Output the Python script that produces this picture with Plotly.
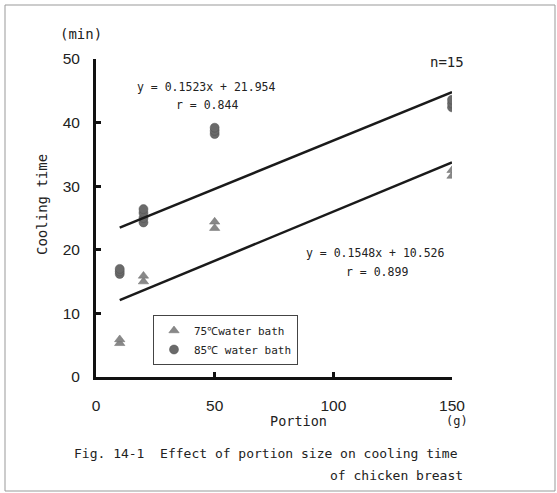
import plotly.graph_objects as go

# ---- data ----
x_75 = [10, 10, 20, 20, 50, 50, 150, 150]
y_75 = [5.3, 5.9, 15.0, 15.9, 23.4, 24.4, 31.6, 32.5]
x_85 = [10, 10, 10, 20, 20, 20, 20, 50, 50, 50, 150, 150, 150]
y_85 = [16.2, 16.6, 17.0, 24.3, 25.0, 25.8, 26.4, 38.2, 38.7, 39.2, 42.4, 43.0, 43.6]
fit_names = ["75", "85"]
fit_slope = [0.1548, 0.1523]
fit_intercept = [10.526, 21.954]
fit_r = [0.899, 0.844]
fit_x = [10, 150]
x_ticks = [0, 50, 100, 150]
y_ticks = [0, 10, 20, 30, 40, 50]

W, H = 557, 493
L, R, T, B = 96, 105, 59, 116
PW, PH = W - L - R, H - T - B
FONT = "DejaVu Sans Mono"
TICKFONT = "Liberation Sans"


def px(x):
    return (x - L) / PW


def py(y):
    return (H - B - y) / PH


fig = go.Figure()
fig.add_trace(go.Scatter(x=x_75, y=y_75, mode="markers", name="75℃water bath",
                         marker=dict(symbol="triangle-up", size=9, color="#888888",
                                     line=dict(width=0.5, color="#6e6e6e"))))
fig.add_trace(go.Scatter(x=x_85, y=y_85, mode="markers", name="85℃ water bath",
                         marker=dict(symbol="circle", size=9, color="#6a6a6a",
                                     line=dict(width=0.5, color="#505050"))))
for s, b in zip(fit_slope, fit_intercept):
    fig.add_trace(go.Scatter(x=fit_x, y=[s * v + b for v in fit_x], mode="lines",
                             line=dict(color="#1a1a1a", width=2.5), showlegend=False,
                             hoverinfo="skip"))

ann = []
def text(x, y, t, size=13, xanchor="center", family=FONT, **kw):
    ann.append(dict(x=px(x), y=py(y), xref="paper", yref="paper", text=t, showarrow=False,
                    xanchor=xanchor, yanchor="middle",
                    font=dict(size=size, color="#222", family=family), **kw))

text(81, 34, "(min)", 14)
text(447, 62, "n=15", 14)
text(206, 87, f"y = {fit_slope[1]}x + {fit_intercept[1]}", 11.5)
text(207, 105, f"r = {fit_r[1]}", 11.5)
text(375, 253, f"y = {fit_slope[0]}x + {fit_intercept[0]}", 11.5)
text(377, 272, f"r = {fit_r[0]}", 11.5)
text(298, 421, "Portion", 13.5)
text(457, 421, "(g)", 12)
text(42, 205, "Cooling time", 14, textangle=-90)
text(72, 453, "Fig. 14-1  Effect of portion size on cooling time", 13, xanchor="left")
text(465, 475, "of chicken breast", 13, xanchor="right")

fig.update_layout(
    width=W, height=H, margin=dict(l=L, r=R, t=T, b=B),
    paper_bgcolor="white", plot_bgcolor="white",
    font=dict(family=FONT, color="#222"),
    annotations=ann,
    shapes=[dict(type="rect", xref="paper", yref="paper", x0=px(5), x1=px(555),
                 y0=py(491), y1=py(5), line=dict(color="#999", width=1))],
    legend=dict(x=px(153), y=py(315), xanchor="left", yanchor="top",
                bordercolor="#444", borderwidth=1, bgcolor="white",
                font=dict(size=11, family=FONT), itemwidth=30,
                tracegroupgap=0),
    xaxis=dict(range=[0, 150], tickvals=x_ticks, ticks="inside", ticklen=5, tickwidth=3,
               tickcolor="#111", showline=True, linewidth=3, linecolor="#111",
               showgrid=False, zeroline=False,
               tickfont=dict(size=15.5, family=TICKFONT, color="#222"),
               ticklabelstandoff=12),
    yaxis=dict(range=[0, 50], tickvals=y_ticks, ticks="inside", ticklen=5, tickwidth=3,
               tickcolor="#111", showline=True, linewidth=3, linecolor="#111",
               showgrid=False, zeroline=False,
               tickfont=dict(size=15.5, family=TICKFONT, color="#222"),
               ticklabelstandoff=10),
)
fig.write_html("out.html")
